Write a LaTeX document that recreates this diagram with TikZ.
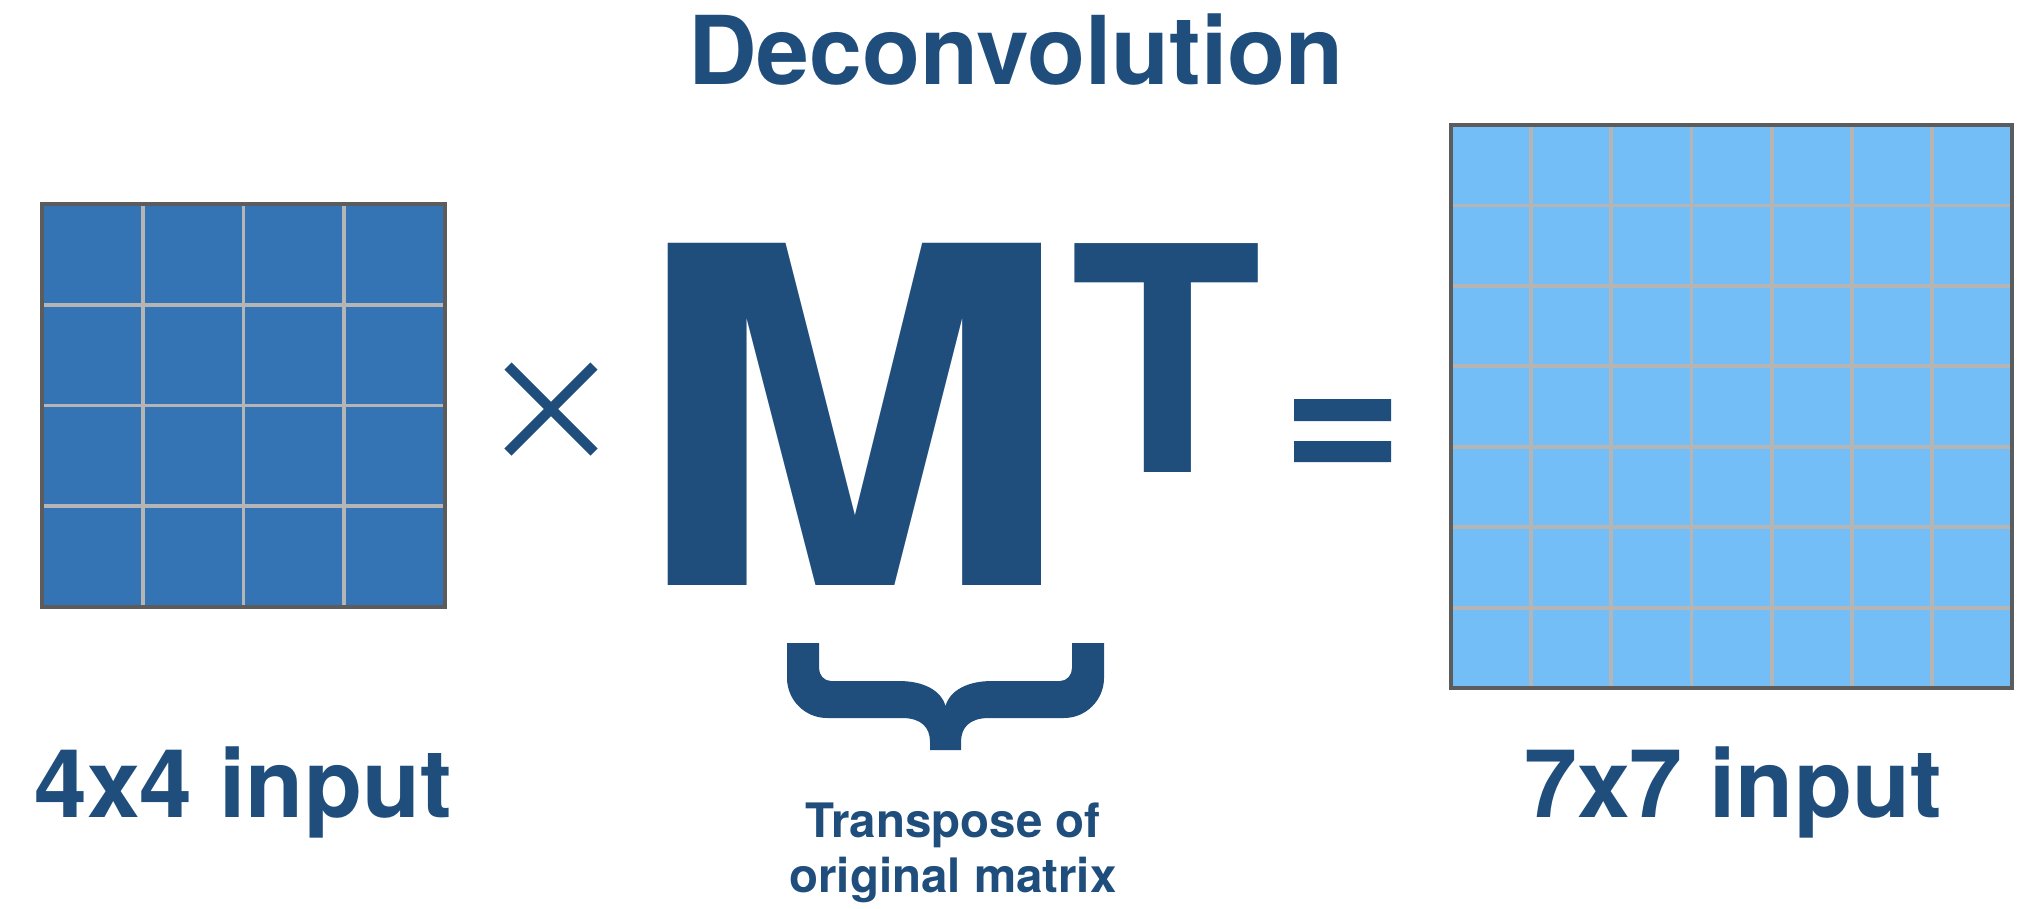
\documentclass[tikz,border=0pt]{standalone}
\usepackage{fontspec}
\setmainfont{TeX Gyre Heros}
\usetikzlibrary{positioning}
\definecolor{inkblue}{HTML}{1F4E7D}
\definecolor{cellblue}{HTML}{3474B5}
\definecolor{cellsky}{HTML}{74BEF8}
\definecolor{cellgrid}{HTML}{B5B5B5}
\definecolor{cellframe}{HTML}{5C5C5C}
\tikzset{
  bigtext/.style = {text=inkblue, font=\fontsize{27}{32}\selectfont\bfseries, inner sep=0pt, anchor=base},
  cellline/.style = {draw=cellgrid, line width=1.1pt},
  cellframe/.style = {draw=cellframe, line width=1pt},
  opline/.style = {draw=inkblue, line width=0.1cm}
}
\begin{document}
\begin{tikzpicture}[x=0.01cm, y=-0.01cm]
  \useasboundingbox (0,0) rectangle (2024,908);

  \node [bigtext] (title) at (1016,84) {Deconvolution};

  % 4x4 input
  \fill [cellblue] (42,204) rectangle (445,607);
  \foreach \i in {1,2,3} {
    \draw [cellline] (42+\i*100.75,204) -- ++(0,403);
    \draw [cellline] (42,204+\i*100.75) -- ++(403,0);
  }
  \draw [cellframe] (42,204) rectangle (445,607);
  \node [bigtext] (lbl4) at (243,817) {4x4 input};

  % times
  \draw [opline] (508,366) -- (594,452)
                 (594,366) -- (508,452);

  % M^T
  \node [text=inkblue, font=\fontsize{133.5}{140}\selectfont\bfseries, inner sep=0pt, anchor=base]
        (bigM) at (852,585) {\scalebox{1.12}[1]{M}};
  \node [text=inkblue, font=\fontsize{89.3}{95}\selectfont\bfseries, inner sep=0pt, anchor=base]
        (supT) at (1166.5,472) {T};

  % equals
  \fill [inkblue] (1294,399) rectangle (1391,421)
                  (1294,441) rectangle (1391,462);

  % brace
  \fill [inkblue]
    (787,643) -- (787,678) .. controls (787,700) and (805,718) .. (827,718)
    -- (902,718) .. controls (922,718) and (930,728) .. (930,742)
    -- (930,750) -- (961,750) -- (961,742)
    .. controls (961,728) and (969,718) .. (989,718)
    -- (1064,718) .. controls (1086,718) and (1104,700) .. (1104,678)
    -- (1104,643) -- (1072,643) -- (1072,668)
    .. controls (1072,675) and (1067,681) .. (1060,681)
    -- (992,681) .. controls (968,681) and (950,690) .. (945.5,706)
    .. controls (941,690) and (923,681) .. (899,681)
    -- (831,681) .. controls (824,681) and (819,675) .. (819,668)
    -- (819,643) -- cycle;
  \node [text=inkblue, font=\fontsize{13.5}{15.6}\selectfont\bfseries, align=center, inner sep=0pt, anchor=north]
        (note) at (953,802) {Transpose of\\original matrix};

  % 7x7 output
  \fill [cellsky] (1451,125) rectangle (2012,688);
  \foreach \i in {1,...,6} {
    \draw [cellline] (1451+\i*80.14,125) -- ++(0,563);
    \draw [cellline] (1451,125+\i*80.43) -- ++(561,0);
  }
  \draw [cellframe] (1451,125) rectangle (2012,688);
  \node [bigtext] (lbl7) at (1733,817) {7x7 input};
\end{tikzpicture}
\end{document}
